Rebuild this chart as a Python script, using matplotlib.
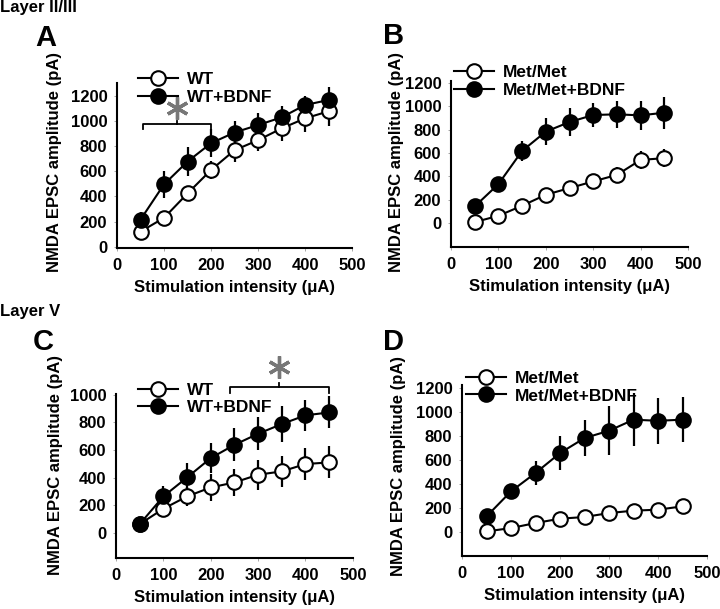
import matplotlib
matplotlib.use('Agg')
import matplotlib.pyplot as plt

plt.rcParams['font.family'] = ['Liberation Sans', 'DejaVu Sans']
plt.rcParams['font.weight'] = 'bold'

stim = [50, 100, 150, 200, 250, 300, 350, 400, 450]

# Layer II/III, WT
a_wt = [120, 229, 423, 609, 766, 846, 939, 1019, 1075]
a_wt_err = [40, 30, 35, 75, 90, 85, 100, 110, 120]
a_bdnf = [215, 495, 676, 822, 907, 966, 1027, 1125, 1165]
a_bdnf_err = [64, 106, 112, 112, 93, 93, 88, 75, 100]

# Layer II/III, Met/Met
b_mm = [8, 62, 148, 242, 299, 356, 412, 540, 555]
b_mm_err = [15, 20, 25, 25, 57, 60, 71, 80, 77]
b_bdnf = [142, 333, 617, 782, 864, 924, 930, 921, 944]
b_bdnf_err = [20, 25, 85, 114, 122, 105, 114, 122, 137]

# Layer V, WT
c_wt = [65, 176, 265, 330, 366, 422, 446, 499, 511]
c_wt_err = [0, 45, 70, 100, 96, 108, 113, 116, 116]
c_bdnf = [65, 265, 402, 542, 638, 718, 788, 851, 872]
c_bdnf_err = [0, 77, 104, 108, 120, 120, 128, 113, 116]

# Layer V, Met/Met
d_mm = [5, 33, 75, 111, 125, 158, 178, 186, 214]
d_mm_err = [15, 15, 15, 15, 15, 15, 15, 15, 15]
d_bdnf = [130, 339, 492, 658, 783, 844, 936, 927, 936]
d_bdnf_err = [20, 25, 103, 139, 153, 203, 222, 192, 186]

# significance brackets: (x0, x1, y, y_end, y_mid_top)
a_sig = (55, 200, 975, 935, 1000)
c_sig = (240, 450, 1056, 1012, 1085)

fig = plt.figure(figsize=(7.2, 6.09), dpi=100)


def panel(rect, ylim, yticks, ctrl, ctrl_err, bdnf, bdnf_err, labels, leg_xy, ylab_xy):
    ax = fig.add_axes(rect)
    ax.errorbar(stim, ctrl, yerr=ctrl_err, fmt='none', ecolor='black', elinewidth=1.6, capsize=0, zorder=1)
    ax.errorbar(stim, bdnf, yerr=bdnf_err, fmt='none', ecolor='black', elinewidth=1.6, capsize=0, zorder=1)
    ax.plot(stim, ctrl, '-o', color='black', lw=1.5, ms=10.5, mfc='white', mec='black', mew=1.5,
            label=labels[0], zorder=3)
    ax.plot(stim, bdnf, '-o', color='black', lw=1.5, ms=10.5, mfc='black', mec='black', mew=1.5,
            label=labels[1], zorder=4)
    ax.set_xlim(0, 500)
    ax.set_ylim(*ylim)
    ax.set_xticks([0, 100, 200, 300, 400, 500])
    ax.set_yticks(yticks)
    for s in ['top', 'right']:
        ax.spines[s].set_visible(False)
    for s in ['left', 'bottom']:
        ax.spines[s].set_linewidth(1.5)
    ax.tick_params(length=2, width=0.6, color='#999999', labelsize=12, pad=5)
    for t in ax.get_xticklabels() + ax.get_yticklabels():
        t.set_fontweight('bold')
    ax.set_xlabel('Stimulation intensity (\u03bcA)', fontsize=12, fontweight='bold', labelpad=5)
    ax.set_ylabel('NMDA EPSC amplitude (pA)', fontsize=12, fontweight='bold', va='center')
    ax.yaxis.set_label_coords(*ylab_xy)
    leg = ax.legend(loc='center left', bbox_to_anchor=leg_xy, frameon=False, fontsize=12.5,
                    handlelength=2.3, handletextpad=0.5, labelspacing=0.15,
                    borderpad=0, borderaxespad=0)
    for t in leg.get_texts():
        t.set_fontweight('bold')
    return ax


def bracket(ax, sig):
    x0, x1, y, y_end, y_top = sig
    xm = (x0 + x1) / 2
    ax.plot([x0, x0, x1, x1], [y_end, y, y, y_end], color='black', lw=1.3, clip_on=False)
    ax.plot([xm, xm], [y, y_top], color='black', lw=1.3, clip_on=False)
    ax.plot([xm], [y_top + (y_top - y_end) * 1.6], marker=(6, 2, 0), ms=16, mew=2.4,
            color='#777777', clip_on=False, linestyle='none')


ax_a = panel([0.1625, 0.5928, 0.3264, 0.2709], (-10, 1300), range(0, 1201, 200),
             a_wt, a_wt_err, a_bdnf, a_bdnf_err, ['WT', 'WT+BDNF'], (0.089, 0.967), (-0.264, 0.52))
bracket(ax_a, a_sig)

ax_b = panel([0.6264, 0.5944, 0.3292, 0.2726], (-205, 1215), range(0, 1201, 200),
             b_mm, b_mm_err, b_bdnf, b_bdnf_err, ['Met/Met', 'Met/Met+BDNF'], (0.013, 0.998), (-0.228, 0.51))

ax_c = panel([0.1611, 0.0837, 0.329, 0.2693], (-180, 1005), range(0, 1001, 200),
             c_wt, c_wt_err, c_bdnf, c_bdnf_err, ['WT', 'WT+BDNF'], (0.093, 0.97), (-0.257, 0.57))
bracket(ax_c, c_sig)

ax_d = panel([0.6417, 0.087, 0.3403, 0.2808], (-200, 1225), range(0, 1201, 200),
             d_mm, d_mm_err, d_bdnf, d_bdnf_err, ['Met/Met', 'Met/Met+BDNF'], (0.016, 0.988), (-0.261, 0.525))

fig.text(0.0, 0.987, 'Layer II/III', fontsize=12, fontweight='bold', va='center', ha='left')
fig.text(0.0, 0.4877, 'Layer V', fontsize=12, fontweight='bold', va='center', ha='left')
for letter, x, y in [('A', 0.064, 0.9376), ('B', 0.546, 0.941), ('C', 0.06, 0.4384), ('D', 0.546, 0.4384)]:
    fig.text(x, y, letter, fontsize=21, fontweight='bold', ha='center', va='center')

fig.savefig('out.png', dpi=100)
